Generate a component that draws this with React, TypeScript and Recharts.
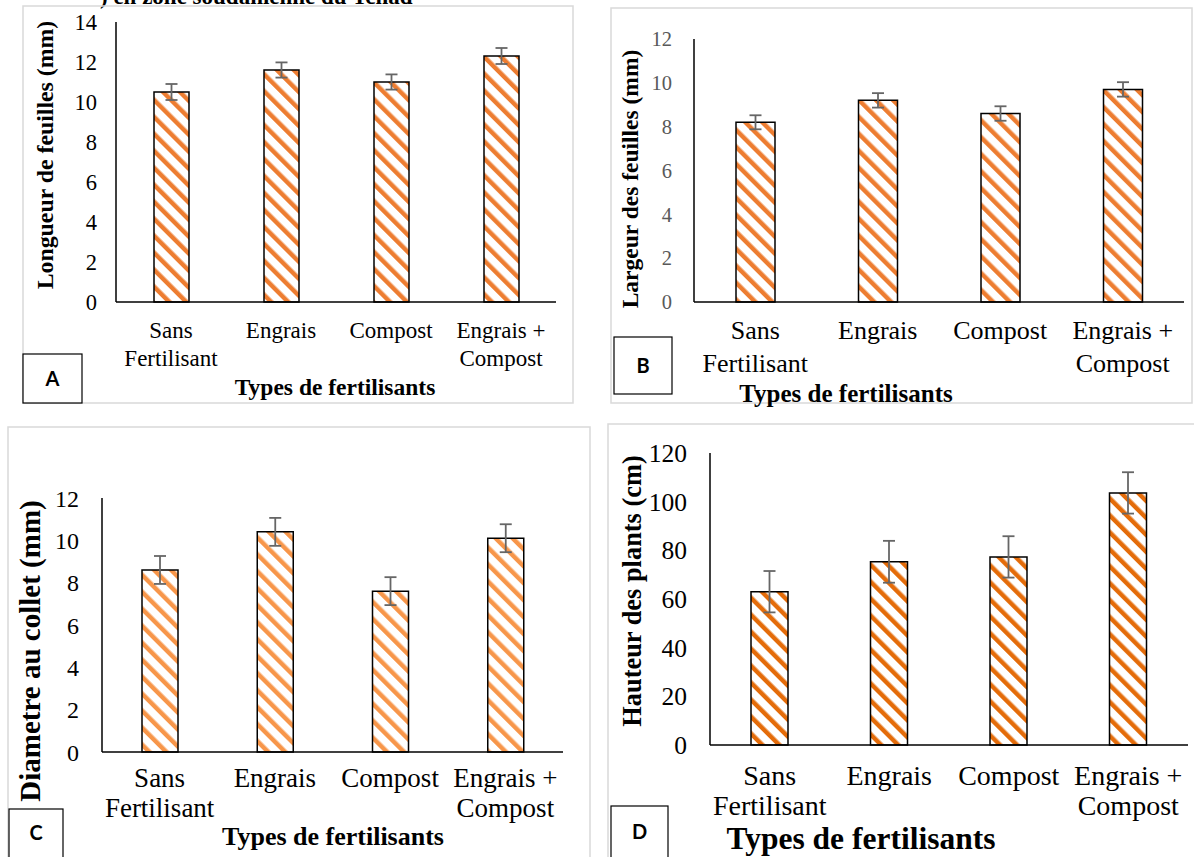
import React from 'react'
import { BarChart, Bar, XAxis, YAxis, ErrorBar } from 'recharts'

const categories = ['Sans Fertilisant', 'Engrais', 'Compost', 'Engrais + Compost']
const categoryLines: Record<string, string[]> = {
  'Sans Fertilisant': ['Sans', 'Fertilisant'],
  Engrais: ['Engrais'],
  Compost: ['Compost'],
  'Engrais + Compost': ['Engrais +', 'Compost']
}

const longueurValues = [10.5, 11.6, 11.0, 12.3]
const longueurErrors = [0.4, 0.38, 0.38, 0.4]
const longueurTicks = [0, 2, 4, 6, 8, 10, 12, 14]

const largeurValues = [8.2, 9.2, 8.6, 9.7]
const largeurErrors = [0.32, 0.33, 0.33, 0.33]
const largeurTicks = [0, 2, 4, 6, 8, 10, 12]

const diametreValues = [8.6, 10.4, 7.6, 10.1]
const diametreErrors = [0.66, 0.66, 0.66, 0.66]
const diametreTicks = [0, 2, 4, 6, 8, 10, 12]

const hauteurValues = [63, 75.3, 77.3, 103.6]
const hauteurErrors = [8.5, 8.6, 8.5, 8.5]
const hauteurTicks = [0, 20, 40, 60, 80, 100, 120]

const xTitle = 'Types de fertilisants'
const caption = ') en zone soudanienne du Tchad'

const SERIF = '"Liberation Serif", "Times New Roman", serif'
const SANS = 'Lato, "Liberation Sans", Arial, sans-serif'
const PAGE_H = 857

type Panel = {
  key: string
  letter: string
  values: number[]
  errors: number[]
  ticks: number[]
  yTitle: string
  color: string
  frame: { x: number; y: number; w: number; h: number }
  plot: { left: number; top: number; right: number; bottom: number }
  barSize: number
  tickFont: number
  tickColor: string
  tickGap: number
  catFont: number
  catY: number[]
  xTitleFont: number
  xTitleX: number
  xTitleY: number
  yTitleFont: number
  yTitleX: number
  yTitleY: number
  box: { x: number; y: number; w: number; h: number }
}

// one entry per sub-chart (A, B, C, D); positions are page pixels
const panels: Panel[] = [
  {
    key: 'A', letter: 'A', values: longueurValues, errors: longueurErrors, ticks: longueurTicks,
    yTitle: 'Longueur de feuilles (mm)', color: '#ED7D31',
    frame: { x: 23, y: 6, w: 550, h: 397 },
    plot: { left: 116, top: 22, right: 556, bottom: 302 },
    barSize: 35, tickFont: 22.5, tickColor: '#000', tickGap: 19,
    catFont: 23, catY: [330, 358], xTitleFont: 23.5, xTitleX: 335, xTitleY: 387,
    yTitleFont: 23.8, yTitleX: 45, yTitleY: 155,
    box: { x: 23, y: 354, w: 59, h: 49 }
  },
  {
    key: 'B', letter: 'B', values: largeurValues, errors: largeurErrors, ticks: largeurTicks,
    yTitle: 'Largeur des feuilles (mm)', color: '#ED7D31',
    frame: { x: 611, y: 8, w: 581, h: 395 },
    plot: { left: 694, top: 39, right: 1184, bottom: 302 },
    barSize: 39, tickFont: 20.5, tickColor: '#595959', tickGap: 22,
    catFont: 26, catY: [330, 363], xTitleFont: 25, xTitleX: 846, xTitleY: 393,
    yTitleFont: 23.5, yTitleX: 630, yTitleY: 179,
    box: { x: 614, y: 337, w: 58, h: 57 }
  },
  {
    key: 'C', letter: 'C', values: diametreValues, errors: diametreErrors, ticks: diametreTicks,
    yTitle: 'Diametre au collet (mm)', color: '#F7964A',
    frame: { x: 8, y: 427, w: 582, h: 440 },
    plot: { left: 102, top: 498, right: 563, bottom: 752 },
    barSize: 36, tickFont: 24, tickColor: '#000', tickGap: 23,
    catFont: 27, catY: [778, 808], xTitleFont: 26, xTitleX: 333, xTitleY: 836,
    yTitleFont: 29, yTitleX: 30, yTitleY: 651,
    box: { x: 9, y: 809, w: 54, h: 60 }
  },
  {
    key: 'D', letter: 'D', values: hauteurValues, errors: hauteurErrors, ticks: hauteurTicks,
    yTitle: 'Hauteur des plants (cm)', color: '#E46C0A',
    frame: { x: 608, y: 424, w: 600, h: 445 },
    plot: { left: 710, top: 453, right: 1188, bottom: 745 },
    barSize: 37, tickFont: 25.5, tickColor: '#000', tickGap: 23,
    catFont: 28, catY: [775, 805], xTitleFont: 31.5, xTitleX: 861, xTitleY: 838,
    yTitleFont: 26.4, yTitleX: 632, yTitleY: 591,
    box: { x: 611, y: 806, w: 57, h: 60 }
  }
]

const CategoryTick = (props: any) => {
  const { x, payload, panel, chartTop } = props
  const lines = categoryLines[payload.value] || [payload.value]
  return (
    <g>
      {lines.map((line: string, i: number) => (
        <text
          key={i}
          x={x}
          y={panel.catY[i] - chartTop}
          dy="0.35em"
          textAnchor="middle"
          fontFamily={SERIF}
          fontSize={panel.catFont}
          fill="#000"
        >
          {line}
        </text>
      ))}
    </g>
  )
}

const PanelChart = ({ panel }: { panel: Panel }) => {
  const { frame, plot } = panel
  const height = PAGE_H - frame.y
  const data = categories.map((name, i) => ({ name, value: panel.values[i], err: panel.errors[i] }))
  const max = panel.ticks[panel.ticks.length - 1]
  return (
    <div style={{ position: 'absolute', left: frame.x, top: frame.y, width: frame.w, height }}>
      <BarChart
        width={frame.w}
        height={height}
        data={data}
        margin={{ top: plot.top - frame.y, right: frame.x + frame.w - plot.right, bottom: 0, left: 0 }}
      >
        <defs>
          <pattern
            id={`hatch-${panel.key}`}
            patternUnits="userSpaceOnUse"
            width="12"
            height="12"
            patternTransform="rotate(-45)"
          >
            <rect width="12" height="12" fill="#fff" />
            <rect width="4.5" height="12" fill={panel.color} />
          </pattern>
        </defs>
        <XAxis
          dataKey="name"
          interval={0}
          height={frame.y + height - plot.bottom}
          axisLine={{ stroke: '#000', strokeWidth: 1.5 }}
          tickLine={false}
          tick={(p: any) => <CategoryTick {...p} panel={panel} chartTop={frame.y} />}
        />
        <YAxis
          type="number"
          domain={[0, max]}
          ticks={panel.ticks}
          interval={0}
          width={plot.left - frame.x}
          axisLine={{ stroke: '#000', strokeWidth: 1.5 }}
          tickLine={false}
          tickSize={panel.tickGap}
          tickMargin={0}
          tick={{ fill: panel.tickColor, fontSize: panel.tickFont, fontFamily: SERIF }}
        />
        <Bar
          dataKey="value"
          barSize={panel.barSize}
          fill={`url(#hatch-${panel.key})`}
          stroke="#000"
          strokeWidth={1.5}
          isAnimationActive={false}
        >
          <ErrorBar dataKey="err" width={6} stroke="#666" strokeWidth={1.8} />
        </Bar>
      </BarChart>
    </div>
  )
}

const Decorations = () => (
  <svg
    width={1194}
    height={PAGE_H}
    style={{ position: 'absolute', left: 0, top: 0, pointerEvents: 'none' }}
  >
    <text x={100} y={4} fontFamily={SERIF} fontSize={23} fontWeight="bold" fill="#000">
      {caption}
    </text>
    {panels.map((p) => (
      <g key={p.key}>
        <rect
          x={p.frame.x}
          y={p.frame.y}
          width={p.frame.w}
          height={p.frame.h}
          fill="none"
          stroke="#d9d9d9"
          strokeWidth={1.5}
        />
        <text
          transform={`rotate(-90, ${p.yTitleX}, ${p.yTitleY})`}
          x={p.yTitleX}
          y={p.yTitleY}
          dy="0.35em"
          textAnchor="middle"
          fontFamily={SERIF}
          fontWeight="bold"
          fontSize={p.yTitleFont}
          fill="#000"
        >
          {p.yTitle}
        </text>
        <text
          x={p.xTitleX}
          y={p.xTitleY}
          dy="0.35em"
          textAnchor="middle"
          fontFamily={SERIF}
          fontWeight="bold"
          fontSize={p.xTitleFont}
          fill="#000"
        >
          {xTitle}
        </text>
        <rect
          x={p.box.x}
          y={p.box.y}
          width={p.box.w}
          height={p.box.h}
          fill="#fff"
          stroke="#000"
          strokeWidth={1.2}
        />
        <text
          x={p.box.x + p.box.w / 2}
          y={p.box.y + Math.min(p.box.h, PAGE_H - p.box.y) / 2}
          dy="0.35em"
          textAnchor="middle"
          fontFamily={SANS}
          fontWeight="bold"
          fontSize={20}
          fill="#000"
        >
          {p.letter}
        </text>
      </g>
    ))}
  </svg>
)

export default function App() {
  return (
    <div style={{ position: 'absolute', left: 0, top: 0, width: 1194, height: PAGE_H, background: '#fff', overflow: 'hidden' }}>
      {panels.map((p) => (
        <PanelChart key={p.key} panel={p} />
      ))}
      <Decorations />
    </div>
  )
}
